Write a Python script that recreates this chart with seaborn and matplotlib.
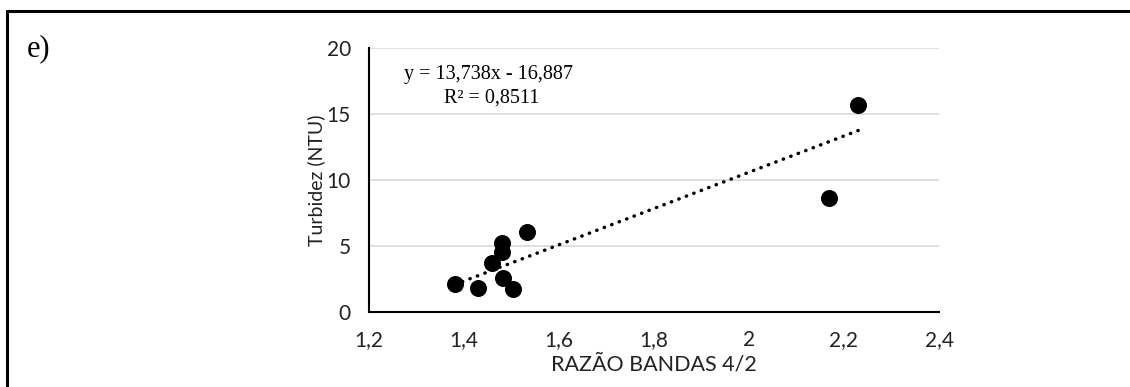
import numpy as np
import pandas as pd
import matplotlib
matplotlib.use("Agg")
import matplotlib.pyplot as plt
from matplotlib.lines import Line2D
import seaborn as sns

# Band ratio (4/2) versus measured turbidity
razao = [1.381, 1.430, 1.460, 1.479, 1.479, 1.483, 1.504, 1.533, 2.168, 2.230]
turbidez = [2.10, 1.84, 3.69, 5.20, 4.57, 2.55, 1.74, 6.04, 8.66, 15.68]

# Linear trend line coefficients and fit quality
slope = 13.738
intercept = -16.887
r2 = 0.8511

x_ticks = [1.2, 1.4, 1.6, 1.8, 2.0, 2.2, 2.4]
x_tick_labels = ["1,2", "1,4", "1,6", "1,8", "2", "2,2", "2,4"]
y_ticks = [0, 5, 10, 15, 20]

sns.set_theme(style="white")
plt.rcParams["font.family"] = ["Lato", "DejaVu Sans"]

df = pd.DataFrame({"razao": razao, "turbidez": turbidez})
x_line = np.array([min(razao), max(razao)])
trend = pd.DataFrame({"x": x_line, "y": slope * x_line + intercept})

fig = plt.figure(figsize=(11.30, 3.87), dpi=100)
ax = fig.add_axes([369 / 1130, 75 / 387, 570 / 1130, 264 / 387])

ax.set_xlim(1.2, 2.4)
ax.set_ylim(0, 20)
ax.set_yticks(y_ticks)
ax.set_xticks(x_ticks)
ax.set_xticklabels(x_tick_labels)
ax.yaxis.grid(True, color="#d9d9d9", linewidth=1.2)
ax.set_axisbelow(True)

sns.lineplot(data=trend, x="x", y="y", ax=ax, color="black",
             linewidth=2.5, linestyle=(0, (0.1, 2.2)),
             dash_capstyle="round", zorder=2)
sns.scatterplot(data=df, x="razao", y="turbidez", ax=ax, color="black",
                s=150, edgecolor="black", linewidth=0, zorder=3)

for side in ("top", "right"):
    ax.spines[side].set_visible(False)
for side in ("left", "bottom"):
    ax.spines[side].set_color("black")
    ax.spines[side].set_linewidth(1.5)

ax.tick_params(axis="x", length=0, labelsize=15, colors="#222222", pad=13)
ax.tick_params(axis="y", length=0, labelsize=15, colors="#222222", pad=13)
ax.set_xlabel("RAZÃO BANDAS 4/2", fontsize=15.5, color="#222222", labelpad=3)
ax.set_ylabel("Turbidez (NTU)", fontsize=14, color="#222222")
ax.yaxis.set_label_coords(-0.077, 0.5)

eq = f"y = {slope:.3f}x - {abs(intercept):.3f}".replace(".", ",")
r2_txt = f"R² = {r2:.4f}".replace(".", ",")
ax.text(0.209, 0.898, eq, transform=ax.transAxes, ha="center", va="center",
        family="Liberation Serif", fontsize=14.5, color="black")
ax.text(0.216, 0.810, r2_txt, transform=ax.transAxes, ha="center", va="center",
        family="Liberation Serif", fontsize=14.5, color="black")

# Panel letter and panel frame
fig.text(27 / 1130, 1 - 49 / 387, "e)", family="Liberation Serif",
         fontsize=22, ha="left", va="center", color="black")
fig.add_artist(Line2D([7 / 1130, 7 / 1130], [0, 1 - 10.5 / 387],
                      transform=fig.transFigure, color="black", linewidth=2.2))
fig.add_artist(Line2D([7 / 1130, 1], [1 - 10.5 / 387, 1 - 10.5 / 387],
                      transform=fig.transFigure, color="black", linewidth=2.2))

fig.savefig("out.png", dpi=100, facecolor="white")
